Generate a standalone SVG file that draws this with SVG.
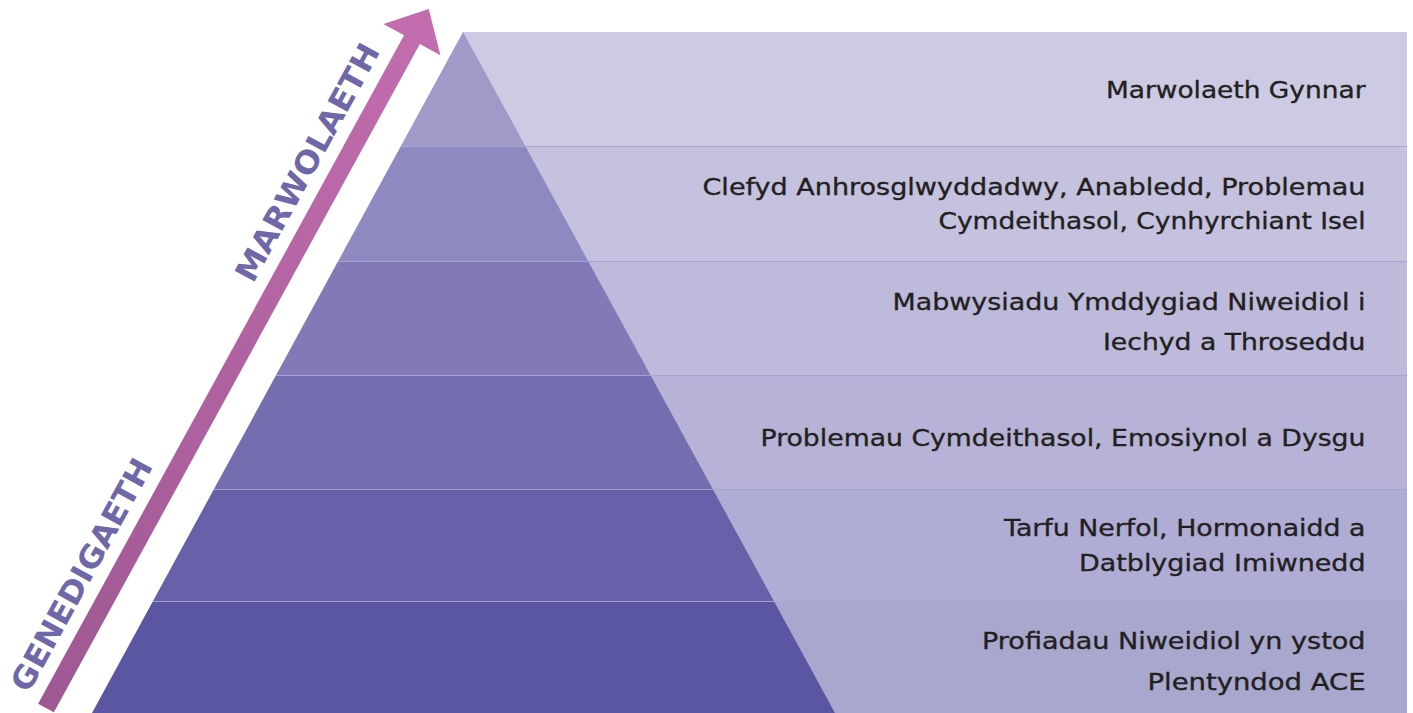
<svg xmlns="http://www.w3.org/2000/svg" width="1413" height="713" viewBox="0 0 1413 713">
  <defs>
    <linearGradient id="arrowGrad" gradientUnits="userSpaceOnUse" x1="0" y1="0" x2="797" y2="0">
      <stop offset="0" stop-color="#9E5892"/>
      <stop offset="1" stop-color="#C36DAF"/>
    </linearGradient>
  </defs>
  <style>
    .lbl { font-family: "DejaVu Sans", "Liberation Sans", sans-serif; font-size: 23.5px; fill: #231F20; stroke: #231F20; stroke-width: 0.35px; }
    .side { font-family: "DejaVu Sans", "Liberation Sans", sans-serif; font-size: 31px; font-weight: bold; fill: #6F67A7; }
    .sep { stroke: #A8A3D3; stroke-width: 1; }
  </style>
  <rect width="1413" height="713" fill="#FFFFFF"/>

  <g id="band1">
    <rect x="463" y="32" width="944" height="114" fill="#CDCAE4"/>
    <polygon points="463,32 525.3,146 400.9,146" fill="#A09AC9"/>
    <text class="lbl" x="1106" y="98" textLength="259.5" lengthAdjust="spacingAndGlyphs">Marwolaeth Gynnar</text>
  </g>
  <g id="band2">
    <rect x="463" y="146" width="944" height="115" fill="#C5C2DF"/>
    <polygon points="400.9,146 525.3,146 588.1,261 338.2,261" fill="#8E89C1"/>
    <text class="lbl" x="702.5" y="195" textLength="663" lengthAdjust="spacingAndGlyphs">Clefyd Anhrosglwyddadwy, Anabledd, Problemau</text>
    <text class="lbl" x="938.5" y="228.5" textLength="427" lengthAdjust="spacingAndGlyphs">Cymdeithasol, Cynhyrchiant Isel</text>
  </g>
  <g id="band3">
    <rect x="463" y="261" width="944" height="114" fill="#BEBADB"/>
    <polygon points="338.2,261 588.1,261 650.4,375 276.1,375" fill="#817AB7"/>
    <text class="lbl" x="892.5" y="310" textLength="473" lengthAdjust="spacingAndGlyphs">Mabwysiadu Ymddygiad Niweidiol i</text>
    <text class="lbl" x="1103" y="349.5" textLength="262.5" lengthAdjust="spacingAndGlyphs">Iechyd a Throseddu</text>
  </g>
  <g id="band4">
    <rect x="463" y="375" width="944" height="114" fill="#B7B3D7"/>
    <polygon points="276.1,375 650.4,375 712.7,489 214,489" fill="#746EB0"/>
    <text class="lbl" x="760.5" y="446" textLength="605" lengthAdjust="spacingAndGlyphs">Problemau Cymdeithasol, Emosiynol a Dysgu</text>
  </g>
  <g id="band5">
    <rect x="463" y="489" width="944" height="112" fill="#AFADD5"/>
    <polygon points="214,489 712.7,489 773.8,601 153,601" fill="#6761AA"/>
    <text class="lbl" x="1004" y="536" textLength="361.5" lengthAdjust="spacingAndGlyphs">Tarfu Nerfol, Hormonaidd a</text>
    <text class="lbl" x="1079" y="571" textLength="286.5" lengthAdjust="spacingAndGlyphs">Datblygiad Imiwnedd</text>
  </g>
  <g id="band6">
    <rect x="463" y="601" width="944" height="112" fill="#A8A7CE"/>
    <polygon points="153,601 773.8,601 835,713 92,713" fill="#5B56A2"/>
    <text class="lbl" x="982" y="648.5" textLength="383.5" lengthAdjust="spacingAndGlyphs">Profiadau Niweidiol yn ystod</text>
    <text class="lbl" x="1147.5" y="690" textLength="218" lengthAdjust="spacingAndGlyphs">Plentyndod ACE</text>
  </g>

  <g id="separators">
    <line class="sep" x1="401" y1="146.5" x2="1407" y2="146.5"/>
    <line class="sep" x1="338" y1="261.5" x2="1407" y2="261.5"/>
    <line class="sep" x1="276" y1="375.5" x2="1407" y2="375.5"/>
    <line class="sep" x1="214" y1="489.5" x2="1407" y2="489.5"/>
    <line class="sep" x1="153" y1="601.5" x2="1407" y2="601.5"/>
  </g>

  <g id="connectors">
    <g id="arrow" transform="translate(46,708) rotate(-61.3)">
      <polygon points="0,-9 762,-9 762,-32.5 797,0 762,32.5 762,9 0,9" fill="url(#arrowGrad)"/>
      <text class="side" x="4" y="-22" textLength="260" lengthAdjust="spacingAndGlyphs">GENEDIGAETH</text>
      <text class="side" x="471" y="-22" textLength="266" lengthAdjust="spacingAndGlyphs">MARWOLAETH</text>
    </g>
  </g>
</svg>
